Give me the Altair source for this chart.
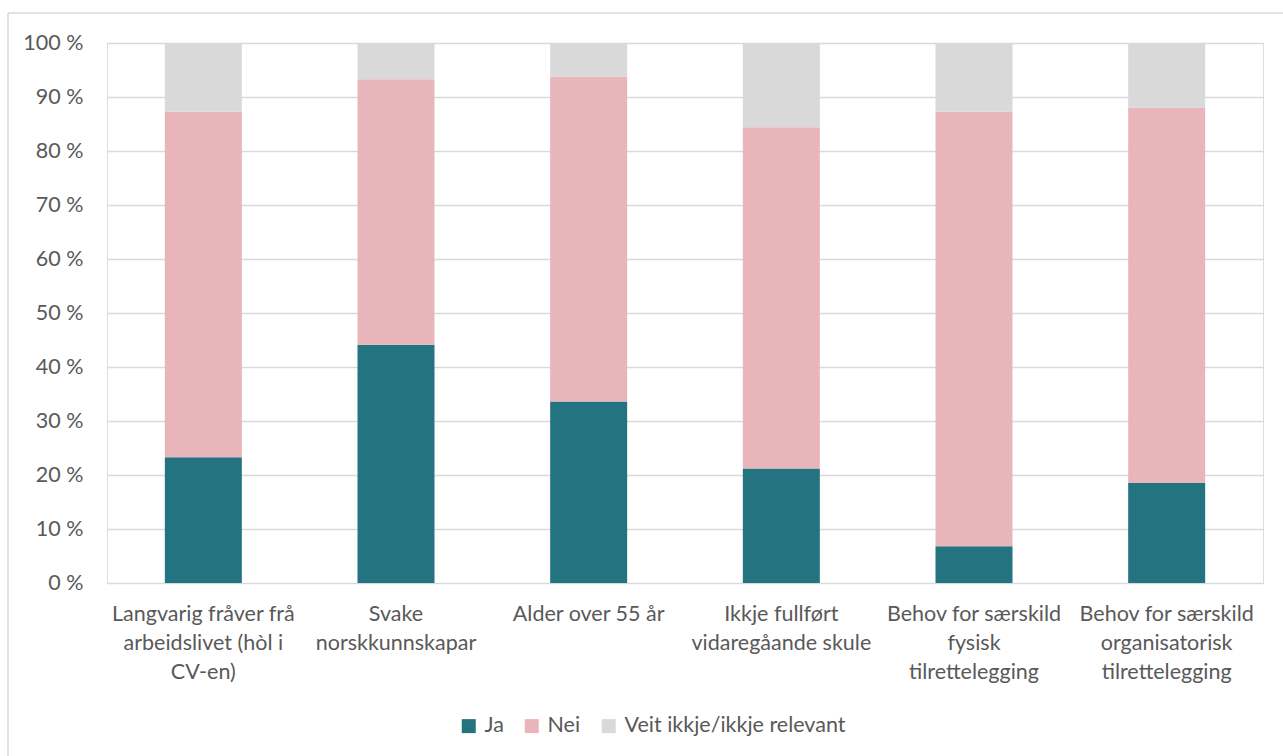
import altair as alt
import pandas as pd

# Survey categories (line breaks mark how each axis label wraps)
categories = [
    "Langvarig fråver frå\narbeidslivet (hòl i\nCV-en)",
    "Svake\nnorskkunnskapar",
    "Alder over 55 år",
    "Ikkje fullført\nvidaregåande skule",
    "Behov for særskild\nfysisk\ntilrettelegging",
    "Behov for særskild\norganisatorisk\ntilrettelegging",
]

series = ["Ja", "Nei", "Veit ikkje/ikkje relevant"]
colors = ["#237380", "#E8B5BA", "#D9D9D9"]

# Shares in percent
ja = [23.3, 44.1, 33.6, 21.2, 6.8, 18.5]
nei = [64.0, 49.2, 60.2, 63.2, 80.5, 69.5]
veit = [12.7, 6.7, 6.2, 15.6, 12.7, 12.0]

rows = []
for i, cat in enumerate(categories):
    for k, (name, vals) in enumerate(zip(series, [ja, nei, veit])):
        rows.append({"kategori": cat, "svar": name, "order": k, "andel": vals[i]})
df = pd.DataFrame(rows)

TEXT = "#595959"
FONT = "Lato"
FS = 21.5

bars = alt.Chart(df).mark_bar(size=77).encode(
    x=alt.X(
        "kategori:N",
        sort=categories,
        title=None,
        scale=alt.Scale(paddingInner=0.6, paddingOuter=0.3),
        axis=alt.Axis(
            labelAngle=0,
            domain=False,
            ticks=False,
            labelPadding=20,
            labelBaseline="top",
            labelExpr="split(datum.label, '\\n')",
            labelLineHeight=29,
            labelFontSize=FS,
            labelColor=TEXT,
            labelFont=FONT,
            labelLimit=400,
        ),
    ),
    y=alt.Y(
        "andel:Q",
        stack="zero",
        title=None,
        scale=alt.Scale(domain=[0, 100], nice=False),
        axis=alt.Axis(
            values=list(range(0, 101, 10)),
            labelExpr="datum.value + ' %'",
            domain=False,
            ticks=False,
            labelPadding=24,
            labelFontSize=FS,
            labelColor=TEXT,
            labelFont=FONT,
            gridColor="#D9D9D9",
            gridWidth=1.5,
        ),
    ),
    color=alt.Color(
        "svar:N",
        sort=series,
        scale=alt.Scale(domain=series, range=colors),
        legend=alt.Legend(
            title=None,
            orient="none",
            direction="horizontal",
            legendX=351,
            legendY=672,
            symbolType="square",
            symbolSize=196,
            symbolStrokeWidth=0,
            symbolOffset=0,
            labelFontSize=FS,
            labelColor=TEXT,
            labelFont=FONT,
            labelOffset=5,
            labelLimit=400,
            columnPadding=17,
        ),
    ),
    order=alt.Order("order:Q", sort="ascending"),
)

# Light frame edges (top and left) around the figure
frame_base = alt.Chart(pd.DataFrame({"f": [0]}))
frame_top = frame_base.mark_rule(color="#D9D9D9", strokeWidth=1.5).encode(
    x=alt.value(-99), x2=alt.value(1176), y=alt.value(-30)
)
frame_left = frame_base.mark_rule(color="#D9D9D9", strokeWidth=1.5).encode(
    x=alt.value(-99), y=alt.value(-30), y2=alt.value(713)
)

chart = alt.layer(frame_top, frame_left, bars).properties(
    width=1156,
    height=540,
    autosize=alt.AutoSizeParams(type="none"),
    padding={"left": 107, "top": 43, "right": 20, "bottom": 173},
).configure_view(stroke=None).configure(font=FONT)

chart.save("out.html", embed_options={"renderer": "svg", "actions": False})
